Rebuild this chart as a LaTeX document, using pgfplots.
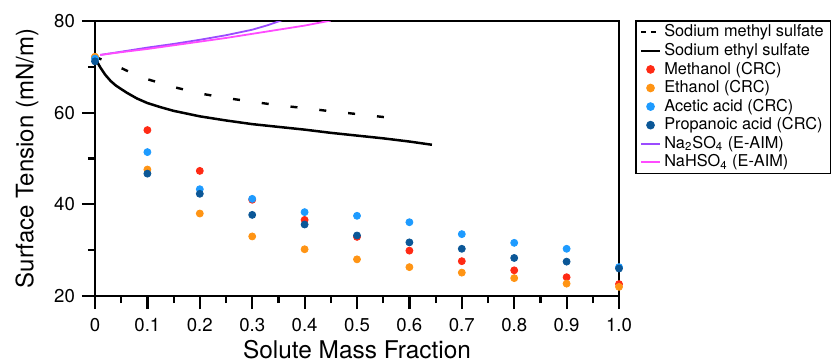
\documentclass[border=0pt]{standalone}
\usepackage{fontspec}
\setmainfont{TeX Gyre Heros}
\usepackage{pgfplots}
\pgfplotsset{compat=1.18}
\definecolor{cmeth}{HTML}{FF2A14}
\definecolor{ceth}{HTML}{FF9414}
\definecolor{cacet}{HTML}{1E9BFF}
\definecolor{cprop}{HTML}{0B5797}
\definecolor{cna}{HTML}{9B4BFF}
\definecolor{cnah}{HTML}{FF4BFF}
\begin{document}
\begin{tikzpicture}
\begin{axis}[
  scale only axis,
  width=262pt, height=137.5pt,
  xmin=0, xmax=1, ymin=20, ymax=80,
  axis line style={line width=1pt},
  xtick={0,0.1,0.2,0.3,0.4,0.5,0.6,0.7,0.8,0.9,1},
  xticklabels={0,0.1,0.2,0.3,0.4,0.5,0.6,0.7,0.8,0.9,1.0},
  ytick={20,40,60,80},
  minor x tick num=1, minor y tick num=1,
  tick align=outside, xtick pos=bottom, ytick pos=left,
  major tick length=6.5pt, minor tick length=3.5pt,
  every tick/.style={black, line width=1.1pt},
  tick label style={font=\fontsize{9.3}{10}\selectfont},
  /pgf/number format/assume math mode=true,
  xticklabel style={yshift=-1pt},
  xlabel style={font=\fontsize{12.2}{14}\selectfont, yshift=2.5pt},
  ylabel style={font=\fontsize{12}{14}\selectfont, yshift=1pt},
  xlabel={Solute Mass Fraction},
  ylabel={Surface Tension (mN/m)},
  legend image code/.code={\draw[mark repeat=2,mark phase=2,#1] plot coordinates {(0pt,0pt) (4.75pt,0pt) (9.5pt,0pt)};},
  legend style={at={(1.0305,1.003)}, anchor=north west, font=\fontsize{8.15}{9}\selectfont,
    draw=black, line width=0.8pt, inner xsep=2pt, inner ysep=1pt, row sep=0pt,
    nodes={inner ysep=0.85pt, inner xsep=1.5pt}},
  legend cell align=left,
]
\addplot[black, line width=1.2pt, dash pattern=on 3.5pt off 11pt,
  legend image post style={dash pattern=on 2.6pt off 2.3pt}] coordinates {
(0,72.2)(0.03,70.8)(0.06,69.2)(0.1,67.3)(0.15,65.6)(0.2,64.2)(0.25,63.2)(0.3,62.4)(0.35,61.6)(0.4,61.0)(0.45,60.3)(0.5,59.7)(0.57,58.8)};
\addlegendentry{Sodium methyl sulfate\hspace{16pt}}
\addplot[black, line width=1.25pt] coordinates {
(0,72.2)(0.005,70.9)(0.01,69.9)(0.02,68.2)(0.03,66.9)(0.04,65.9)(0.06,64.4)(0.08,63.1)(0.1,62.1)(0.125,61.2)(0.15,60.4)(0.2,59.2)(0.25,58.3)(0.3,57.5)(0.35,56.9)(0.4,56.3)(0.45,55.6)(0.5,55.0)(0.55,54.4)(0.6,53.7)(0.643,53.0)};
\addlegendentry{Sodium ethyl sulfate}
\addplot[only marks, mark=*, mark size=1.75pt, color=cmeth] coordinates {
(0,72.1)(0.1,56.2)(0.2,47.3)(0.3,41.0)(0.4,36.6)(0.5,32.9)(0.6,29.9)(0.7,27.6)(0.8,25.6)(0.9,24.1)(1.0,22.6)};
\addlegendentry{Methanol (CRC)}
\addplot[only marks, mark=*, mark size=1.75pt, color=ceth] coordinates {
(0,72.2)(0.1,47.6)(0.2,38.0)(0.3,33.0)(0.4,30.2)(0.5,28.0)(0.6,26.3)(0.7,25.1)(0.8,23.9)(0.9,22.7)(1.0,22.0)};
\addlegendentry{Ethanol (CRC)}
\addplot[only marks, mark=*, mark size=1.75pt, color=cacet] coordinates {
(0,71.8)(0.1,51.4)(0.2,43.3)(0.3,41.2)(0.4,38.3)(0.5,37.5)(0.6,36.1)(0.7,33.5)(0.8,31.6)(0.9,30.3)(1.0,26.3)};
\addlegendentry{Acetic acid (CRC)}
\addplot[only marks, mark=*, mark size=1.75pt, color=cprop] coordinates {
(0,71.2)(0.1,46.7)(0.2,42.3)(0.3,37.7)(0.4,35.6)(0.5,33.2)(0.6,31.7)(0.7,30.3)(0.8,28.3)(0.9,27.5)(1.0,26.0)};
\addlegendentry{Propanoic acid (CRC)}
\addplot[color=cna, line width=0.9pt] coordinates {
(0.01,72.6)(0.05,73.3)(0.1,74.2)(0.15,75.0)(0.2,75.9)(0.25,76.9)(0.3,78.1)(0.33,79.1)(0.36,80.3)};
\addlegendentry{Na\textsubscript{2}SO\textsubscript{4} (E-AIM)}
\addplot[color=cnah, line width=0.9pt] coordinates {
(0.01,72.6)(0.05,73.2)(0.1,73.9)(0.15,74.7)(0.2,75.5)(0.25,76.3)(0.3,77.2)(0.35,78.1)(0.4,79.0)(0.45,80.1)};
\addlegendentry{NaHSO\textsubscript{4} (E-AIM)}
\end{axis}
\pgfresetboundingbox
\path[use as bounding box] (-47.5pt,-33.5pt) rectangle (371.5pt,148pt);
\end{tikzpicture}
\end{document}
